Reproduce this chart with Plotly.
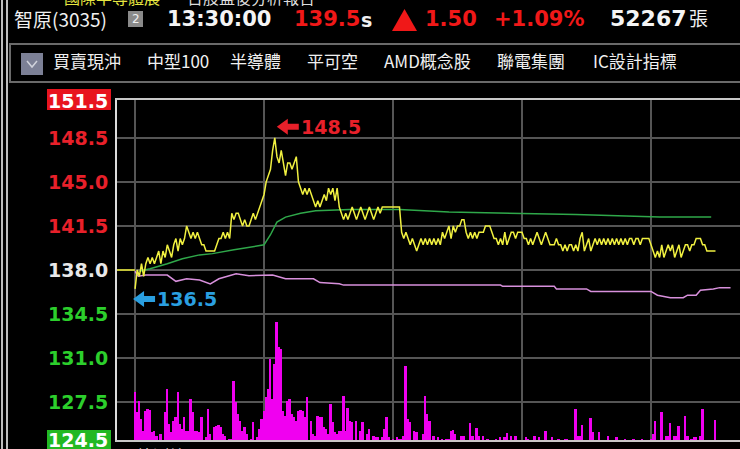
import plotly.graph_objects as go

# ---------------- data ----------------
prev_close = 138.0
stock_name = "智原(3035)"
time_text = "13:30:00"
last_price = "139.5"
change_text = "1.50"
change_pct = "+1.09%"
total_vol = "52267"

# one-minute close prices from 09:00 (minute 0) to 13:30 (minute 270)
price = [
    136.5, 138.0, 137.5, 138.5, 137.5, 138.5, 139.0, 138.5, 139.0, 138.5,
    139.0, 139.5, 138.5, 139.5, 139.0, 140.0, 139.5, 139.0, 140.0, 140.5,
    139.5, 140.5, 140.0, 140.5, 141.5, 141.0, 140.5, 141.0, 140.5, 141.0,
    140.5, 140.0, 140.0, 139.5, 139.5, 139.5, 139.5, 139.5, 140.0, 140.5,
    140.5, 141.0, 140.5, 141.0, 140.5, 142.5, 142.0, 142.5, 142.5, 142.0,
    141.5, 142.0, 141.5, 141.5, 142.0, 142.5, 142.0, 142.5, 143.0, 143.5,
    144.0, 145.0, 145.5, 146.0, 147.5, 148.5, 147.0, 146.5, 147.5, 146.5,
    145.5, 146.5, 146.5, 146.0, 146.5, 147.0, 145.0, 144.5, 144.0, 144.5,
    144.0, 144.5, 144.0, 143.5, 143.0, 143.5, 143.0, 143.5, 144.0, 143.5,
    144.5, 144.0, 144.5, 143.5, 144.5, 143.0, 142.5, 142.0, 142.5, 142.0,
    142.5, 143.0, 142.5, 142.0, 142.5, 143.0, 142.5, 142.0, 142.5, 143.0,
    142.5, 142.0, 142.5, 143.0, 142.5, 143.0, 143.0, 143.0, 143.0, 143.0,
    143.0, 143.0, 143.0, 143.0, 141.0, 140.5, 141.0, 140.5, 140.0, 140.5,
    140.0, 139.5, 140.0, 140.5, 140.0, 140.5, 140.0, 140.5, 140.0, 140.5,
    140.0, 140.5, 140.0, 141.0, 140.5, 141.0, 141.5, 140.5, 141.5, 141.0,
    141.5, 141.5, 142.0, 142.0, 141.0, 140.5, 141.0, 140.5, 141.0, 140.5,
    141.0, 141.0, 141.0, 141.5, 141.5, 141.5, 141.0, 140.5, 140.5, 140.0,
    140.5, 140.0, 141.0, 140.0, 140.5, 141.0, 141.0, 140.5, 141.0, 141.0,
    141.0, 140.5, 140.5, 140.0, 140.5, 140.0, 140.5, 141.0, 140.5, 140.0,
    140.5, 141.0, 140.5, 140.0, 140.0, 140.0, 140.5, 140.0, 140.0, 139.5,
    140.0, 139.5, 140.0, 140.0, 139.5, 140.0, 139.5, 140.5, 141.0, 139.5,
    140.0, 140.5, 139.5, 140.0, 140.5, 140.0, 140.5, 140.0, 140.5, 140.0,
    140.5, 140.0, 140.5, 140.0, 140.5, 140.0, 140.5, 140.0, 140.5, 140.0,
    140.5, 140.5, 140.0, 140.5, 140.5, 140.0, 140.5, 140.5, 140.5, 140.5,
    140.0, 139.5, 139.0, 139.5, 139.0, 140.0, 139.0, 139.5, 140.0, 139.5,
    140.0, 139.0, 139.5, 140.0, 139.0, 139.5, 140.0, 140.0, 139.5, 140.0,
    140.0, 140.5, 140.5, 140.5, 140.0, 140.0, 139.5, 139.5, 139.5, 139.5,
    139.5,
]
minutes = list(range(len(price)))

# average price (green)
avg_t = [2, 7, 15, 22, 30, 36, 46, 53, 60, 63, 66, 70, 77, 84, 100, 123, 146, 205, 244, 268]
avg_p = [137.9, 138.1, 138.5, 138.9, 139.2, 139.3, 139.6, 139.8, 140.0, 140.8,
         141.8, 142.2, 142.5, 142.7, 142.8, 142.8, 142.6, 142.4, 142.2, 142.2]

# violet indicator line
ind_t = [0, 1.5, 5, 15, 19, 24, 30, 35, 39, 47, 53, 64, 70, 83, 86, 95, 97, 123,
         170, 171, 195, 196, 210, 212, 240, 243, 249, 255, 257, 261, 263, 269, 272, 277]
ind_p = [137.9, 137.5, 137.6, 137.6, 137.1, 137.3, 137.2, 136.9, 137.3, 137.7, 137.55,
         137.6, 137.3, 137.3, 137.0, 136.9, 136.8, 136.8, 136.8, 136.7, 136.7, 136.5,
         136.5, 136.3, 136.3, 136.0, 135.8, 135.8, 136.0, 136.0, 136.4, 136.5, 136.6, 136.6]

# per-minute volume (lots)
vol_t = [0, 1, 2, 3, 4, 5, 6, 7, 8, 9, 10, 12, 14, 15, 16, 17, 18, 19, 20, 21,
         22, 23, 24, 25, 26, 27, 28, 29, 30, 31, 33, 34, 35, 37, 38, 39, 40, 41, 42, 44,
         45, 46, 47, 48, 49, 50, 51, 52, 54, 55, 57, 58, 59, 60, 61, 62, 63, 64, 65, 66,
         67, 68, 69, 70, 71, 72, 73, 74, 75, 76, 77, 78, 79, 80, 82, 83, 84, 85, 86, 87,
         88, 89, 90, 91, 92, 93, 94, 95, 96, 97, 98, 99, 100, 101, 103, 105, 106, 108, 109, 111,
         112, 113, 115, 116, 117, 118, 120, 122, 123, 124, 125, 126, 127, 128, 130, 131, 134, 135, 136, 137,
         139, 141, 143, 145, 146, 147, 148, 149, 152, 153, 156, 157, 159, 160, 162, 164, 168, 170, 172, 173,
         175, 177, 182, 183, 186, 188, 191, 194, 197, 200, 201, 205, 206, 207, 208, 212, 213, 216, 220, 224,
         228, 232, 236, 240, 241, 242, 245, 247, 248, 249, 251, 252, 253, 256, 257, 259, 260, 261, 263, 264,
         270]
vol_v = [480, 280, 390, 210, 90, 290, 310, 300, 80, 90, 40, 60, 280, 510, 160, 80, 190, 230, 480, 160,
         110, 230, 90, 90, 410, 280, 90, 90, 80, 230, 30, 310, 60, 130, 140, 150, 130, 60, 40, 10,
         10, 590, 380, 260, 190, 90, 130, 60, 10, 180, 30, 110, 210, 290, 430, 510, 810, 410, 760, 1180,
         930, 910, 290, 240, 390, 410, 260, 230, 190, 290, 300, 290, 230, 430, 190, 60, 40, 240, 230, 230,
         130, 110, 60, 360, 180, 80, 60, 90, 90, 440, 90, 320, 190, 180, 190, 90, 180, 60, 110, 40,
         30, 30, 30, 110, 230, 30, 10, 30, 10, 10, 40, 740, 210, 180, 90, 80, 60, 440, 260, 190,
         40, 30, 10, 10, 10, 90, 100, 60, 40, 40, 170, 40, 120, 40, 40, 10, 10, 30, 30, 70,
         40, 40, 30, 10, 40, 30, 90, 30, 10, 10, 10, 310, 40, 40, 150, 220, 80, 80, 40, 30,
         10, 10, 10, 10, 60, 190, 280, 40, 40, 170, 40, 40, 140, 240, 40, 10, 30, 30, 40, 310,
         200, 10, 1670]

y_ticks = [151.5, 148.5, 145.0, 141.5, 138.0, 134.5, 131.0, 127.5, 124.5]
y_tick_text = ["151.5", "148.5", "145.0", "141.5", "138.0", "134.5", "131.0", "127.5", "124.5"]
hour_ticks = [0, 60, 120, 180, 240]
tags = ["買賣現沖", "中型100", "半導體", "平可空", "AMD概念股", "聯電集團", "IC設計指標"]

# ---------------- layout helpers ----------------
W, H = 740, 449
L, T, B, R = 117, 100, 9, 0
PW, PH = W - L - R, H - T - B
X0, X1 = -8.4, 281.4


def px(x):
    return (x - L) / PW


def py(y):
    return (H - B - y) / PH


BOLD = "DejaVu Sans"
CJK = "Noto Sans CJK TC"

fig = go.Figure()

# volume bars
fig.add_trace(go.Bar(x=vol_t, y=vol_v, yaxis="y2", width=0.9,
                     marker=dict(color="#f000f0", line=dict(width=0)),
                     hoverinfo="skip", showlegend=False))
# previous close stub
fig.add_trace(go.Scatter(x=[X0, 0], y=[prev_close, prev_close], mode="lines",
                         line=dict(color="#e8e830", width=1.5), showlegend=False, hoverinfo="skip"))
# indicator line
fig.add_trace(go.Scatter(x=ind_t, y=ind_p, mode="lines",
                         line=dict(color="#d890dc", width=1.5), showlegend=False))
# average line
fig.add_trace(go.Scatter(x=avg_t, y=avg_p, mode="lines",
                         line=dict(color="#2fa84a", width=1.5), showlegend=False))
# price line
fig.add_trace(go.Scatter(x=minutes, y=price, mode="lines",
                         line=dict(color="#f0f040", width=1.5), showlegend=False))

ann = []


def text(t, x, y, size, color, family=BOLD, weight="normal", xanchor="left"):
    ann.append(dict(text=t, x=px(x), y=py(y), xref="paper", yref="paper", xanchor=xanchor,
                    yanchor="middle", showarrow=False,
                    font=dict(family=family, size=size, color=color, weight=weight)))


# header rows
text("國際半導體展", 62, -3, 16, "#e6e640", family=CJK)
text("台股盤後分析報告", 185, -3, 16, "#dddddd", family=CJK)
text(stock_name, 12, 19, 19, "#f0f0f0", family=CJK)
text("2", 135.5, 19, 12, "#f0f0f0", xanchor="center")
text(time_text, 165, 19, 21, "#f4f4f4", weight="bold")
text(last_price, 292, 19, 21, "#f01818", weight="bold")
text("s", 359, 20, 19, "#f0f0f0", weight="bold")
text(change_text, 423, 19, 21, "#f01818", weight="bold")
text(change_pct, 492, 19, 21, "#f01818", weight="bold")
text(total_vol, 608, 19, 22, "#f4f4f4", weight="bold")
text("張", 687, 17, 19, "#f0f0f0", family=CJK)

tag_x = [51, 145, 228, 305, 382, 495, 591]
for t, x in zip(tags, tag_x):
    text(t, x, 61, 17, "#f0f0f0", family=CJK)

text("檢測線", 135, 455, 16, "#f0f0f0", family=CJK)

# y labels
label_colors = ["#ffffff", "#e8202a", "#e8202a", "#e8202a", "#e8e8e8",
                "#2ccf2c", "#2ccf2c", "#2ccf2c", "#ffffff"]
for v, s, c in zip(y_ticks, y_tick_text, label_colors):
    d = dict(text=s, x=px(110), y=v, xref="paper", yref="y", xanchor="right", yanchor="middle",
             showarrow=False, font=dict(family=BOLD, size=19, color=c, weight="bold"))
    if v == y_ticks[0]:
        d["yshift"] = -1
    ann.append(d)

# max / min markers
pmax = max(price)
tmax = minutes[price.index(pmax)]
pmin = min(price)
tmin = minutes[price.index(pmin)]
shapes = []
for (tx, pv, dy, dx, col) in [(tmax, pmax, 11, 2, "#e8202a"), (tmin, pmin, -10, -2, "#2a9fe0")]:
    shapes.append(dict(type="path", xref="x", yref="y", xsizemode="pixel", ysizemode="pixel",
                       xanchor=tx, yanchor=pv,
                       path=f"M {dx} {dy} L {dx+11} {dy+8} L {dx+11} {dy+3} L {dx+22} {dy+3} "
                            f"L {dx+22} {dy-3} L {dx+11} {dy-3} L {dx+11} {dy-8} Z",
                       line=dict(width=0), fillcolor=col))
    ann.append(dict(text=f"{pv:.1f}", x=tx, y=pv, xref="x", yref="y", xanchor="left",
                    yanchor="middle", yshift=dy, xshift=dx + 22, showarrow=False,
                    font=dict(family=BOLD, size=19, color=col, weight="bold")))

# left double border
for x in (2, 7):
    shapes.append(dict(type="line", xref="paper", yref="paper", x0=px(x), x1=px(x), y0=py(0), y1=py(H),
                       line=dict(color="#bdbdbd", width=2)))
# toolbar frame
shapes.append(dict(type="rect", xref="paper", yref="paper", x0=px(10), x1=px(760), y0=py(44), y1=py(82),
                   line=dict(color="#6a6a6a", width=2)))
shapes.append(dict(type="rect", xref="paper", yref="paper", x0=px(21), x1=px(43), y0=py(53), y1=py(75),
                   line=dict(width=0), fillcolor="#7c8096"))
shapes.append(dict(type="path", xref="paper", yref="paper",
                   path=f"M {px(27)} {py(61)} L {px(32)} {py(67)} L {px(37)} {py(61)}",
                   line=dict(color="#d0d2dc", width=1.5)))
# gray "2" box
shapes.append(dict(type="rect", xref="paper", yref="paper", x0=px(128), x1=px(143), y0=py(11), y1=py(27),
                   line=dict(width=0), fillcolor="#8a8a8a", layer="below"))
# red up triangle
shapes.append(dict(type="path", xref="paper", yref="paper",
                   path=f"M {px(392)} {py(31)} L {px(404.5)} {py(9)} L {px(417)} {py(31)} Z",
                   line=dict(width=0), fillcolor="#f01818"))
# teal prev-close line
shapes.append(dict(type="line", xref="paper", yref="y", x0=0, x1=1, y0=prev_close, y1=prev_close,
                   line=dict(color="#2e7d80", width=1.5), layer="below"))
# label boxes (behind text)
shapes.append(dict(type="rect", xref="paper", yref="paper", x0=px(47), x1=px(111), y0=py(89), y1=py(110),
                   line=dict(width=0), fillcolor="#e8141e", layer="below"))
shapes.append(dict(type="rect", xref="paper", yref="paper", x0=px(47), x1=px(111), y0=py(430), y1=py(452),
                   line=dict(width=0), fillcolor="#22b822", layer="below"))

fig.update_layout(
    width=W, height=H,
    margin=dict(l=L, r=R, t=T, b=B, pad=0),
    paper_bgcolor="#000000", plot_bgcolor="#000000",
    showlegend=False, bargap=0,
    annotations=ann, shapes=shapes,
    xaxis=dict(range=[X0, X1], tickvals=hour_ticks, showticklabels=False, ticks="",
               showgrid=True, gridcolor="#555555", gridwidth=1.5, zeroline=False,
               showline=True, mirror=True, linecolor="#c8c8c8", linewidth=2),
    yaxis=dict(range=[124.5, 151.5], tickvals=y_ticks, showticklabels=False, ticks="",
               showgrid=True, gridcolor="#555555", gridwidth=1.5, zeroline=False,
               showline=True, linecolor="#dcdcdc", linewidth=2),
    yaxis2=dict(range=[0, 3400], overlaying="y", visible=False, showgrid=False),
)

fig.write_html("out.html", config={"displayModeBar": False},
               post_script="document.body.style.margin='0';document.body.style.background='#000';")
